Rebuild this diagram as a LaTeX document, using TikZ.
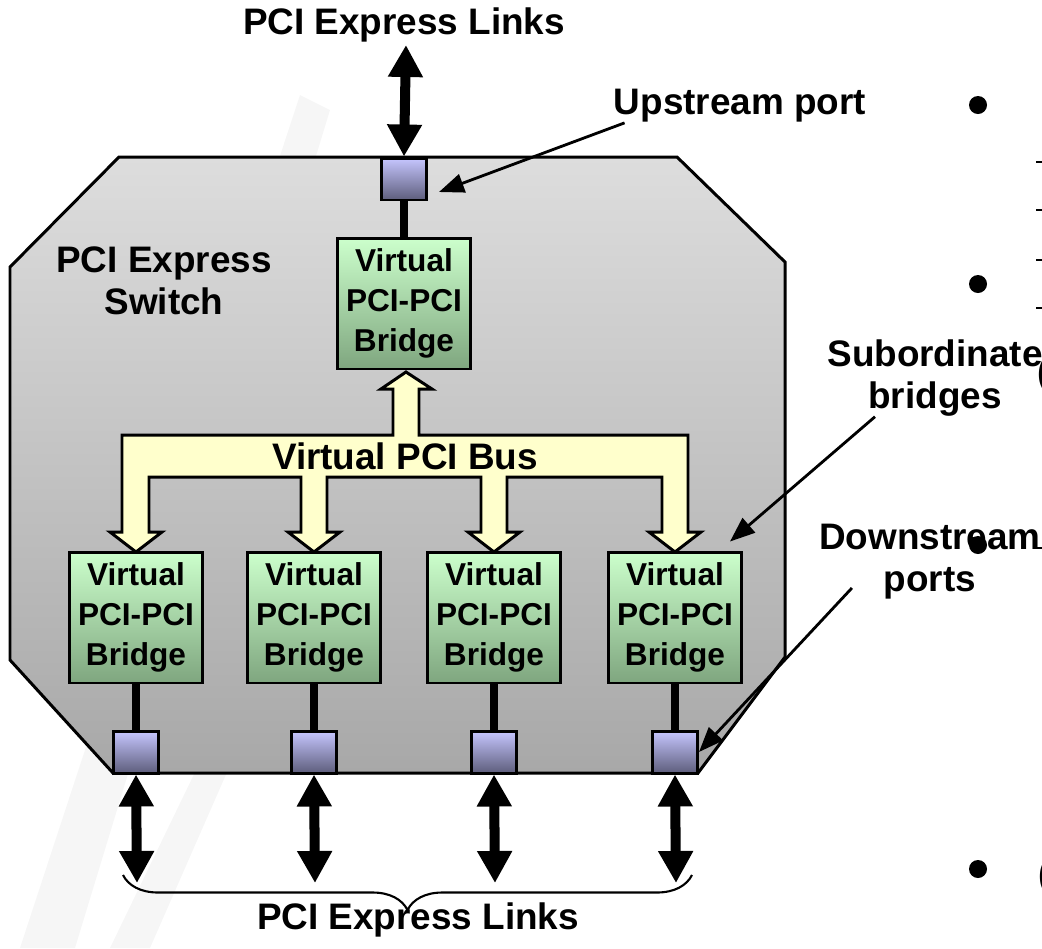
\documentclass[tikz,border=0pt]{standalone}
\usepackage{fontspec}
\setmainfont{Liberation Sans}
\usetikzlibrary{arrows.meta,calc,decorations.pathreplacing}

\definecolor{swtop}{HTML}{DDDDDD}
\definecolor{swbot}{HTML}{A8A8A8}
\definecolor{brtop}{HTML}{CCFFCC}
\definecolor{brbot}{HTML}{7FA67F}
\definecolor{pttop}{HTML}{C6C6FF}
\definecolor{ptbot}{HTML}{5E5E7C}
\definecolor{busfill}{HTML}{FFFFCC}
\definecolor{wmark}{HTML}{F6F6F6}

\begin{document}
\begin{tikzpicture}[x=0.02cm, y=-0.02cm,
        bridge/.style={rectangle, draw, line width=1.7pt, top color=brtop, bottom color=brbot, minimum width=2.66cm, minimum height=2.62cm, inner sep=0pt, align=center, font=\fontsize{18}{22.7}\selectfont\bfseries},
        port/.style={rectangle, draw, line width=1.7pt, top color=pttop, bottom color=ptbot, minimum width=0.9cm, minimum height=0.84cm, inner sep=0pt},
        lbl/.style={font=\fontsize{21}{24}\selectfont\bfseries, align=center, inner sep=0pt},
        wire/.style={line width=4pt},
        link/.style={line width=5.7pt, {Triangle[length=0.64cm,width=0.66cm]}-{Triangle[length=0.64cm,width=0.66cm]}},
        pointer/.style={line width=1.6pt, -{Triangle[length=0.5cm,width=0.38cm]}}]

    \useasboundingbox (0,0) rectangle (1042,948);

    % slide background
    \fill[wmark] (20,948) -- (75,948) -- (330,110) -- (300,95) -- cycle;
    \fill[wmark] (110,948) -- (150,948) -- (320,560) -- (300,555) -- cycle;

    % switch body
    \draw[line width=1.7pt, top color=swtop, bottom color=swbot]
        (119,157) -- (677,157) -- (785,262) -- (785,657) -- (698,773)
        -- (113,773) -- (10,660) -- (10,267) -- cycle;
    \node[lbl] (swlbl) at (164,281) {PCI Express\\Switch};

    % virtual bus
    \draw[line width=1.7pt, fill=busfill]
        (122,435) -- (393,435) -- (393,389) -- (381,389) -- (406,372) -- (432,389)
        -- (419,389) -- (419,435) -- (688,435) -- (688,532) -- (701,532) -- (675,552)
        -- (649,532) -- (662,532) -- (662,477) -- (507,477) -- (507,532) -- (520,532)
        -- (494,552) -- (468,532) -- (481,532) -- (481,477) -- (327,477) -- (327,532)
        -- (340,532) -- (314,552) -- (288,532) -- (301,532) -- (301,477) -- (149,477)
        -- (149,532) -- (162,532) -- (136,552) -- (110,532) -- (122,532) -- cycle;
    \node[lbl] (buslbl) at (405,456) {Virtual PCI Bus};

    % upstream side
    \node[bridge] (upbr) at (404,303.5) {Virtual\\PCI-PCI\\Bridge};
    \node[port] (upport) at (404,179) {};
    \draw[wire] (upport) -- (upbr);
    \coordinate (uplk) at (406,45);
    \draw[link] (uplk) -- (upport.north);
    \node[lbl] (toplbl) at (404,25) {PCI Express Links};

    % downstream side
    \foreach \i/\x in {1/136,2/314,3/494,4/675} {
        \node[bridge] (br\i) at (\x,617.5) {Virtual\\PCI-PCI\\Bridge};
        \node[port] (dp\i) at (\x,752) {};
        \draw[wire] (br\i) -- (dp\i);
        \coordinate (lk\i) at (\x+1,883);
        \draw[link] (dp\i.south) -- (lk\i);
    }
    \draw[decorate, decoration={brace, mirror, amplitude=0.7cm}, line width=1.2pt]
        ($(lk1)+(-14,-8)$) -- ($(lk4)+(16,-8)$);
    \node[lbl] (botlbl) at (418,920) {PCI Express Links};

    % callouts
    \node[lbl] (uplbl) at (740,106) {Upstream port};
    \draw[pointer] ($(uplbl.south west)+(11,0)$) -- ($(upport.east)+(11,13)$);
    \node[lbl] (sublbl) at (935,378) {Subordinate\\bridges};
    \draw[pointer] ($(sublbl.south)+(-60,0)$) -- ($(br4.north east)+(-13,-9)$);
    \node[lbl] (dnlbl) at (930,562) {Downstream\\ports};
    \draw[pointer] ($(dnlbl.south west)+(33,-12)$) -- (dp4.east);

    % edge of the slide text
    \foreach \y in {105,284,545,869}
        \fill (978,\y) circle (9);
    \foreach \y in {162,210,260,308}
        \draw[line width=1.2pt] (1036,\y) -- (1044,\y);
    \draw[line width=1.2pt] (1037,548) -- (1044,548);
    \node[lbl, anchor=west] (par1) at (1037,375) {(};
    \node[lbl, anchor=west] (par2) at (1038,877) {(};
\end{tikzpicture}
\end{document}
